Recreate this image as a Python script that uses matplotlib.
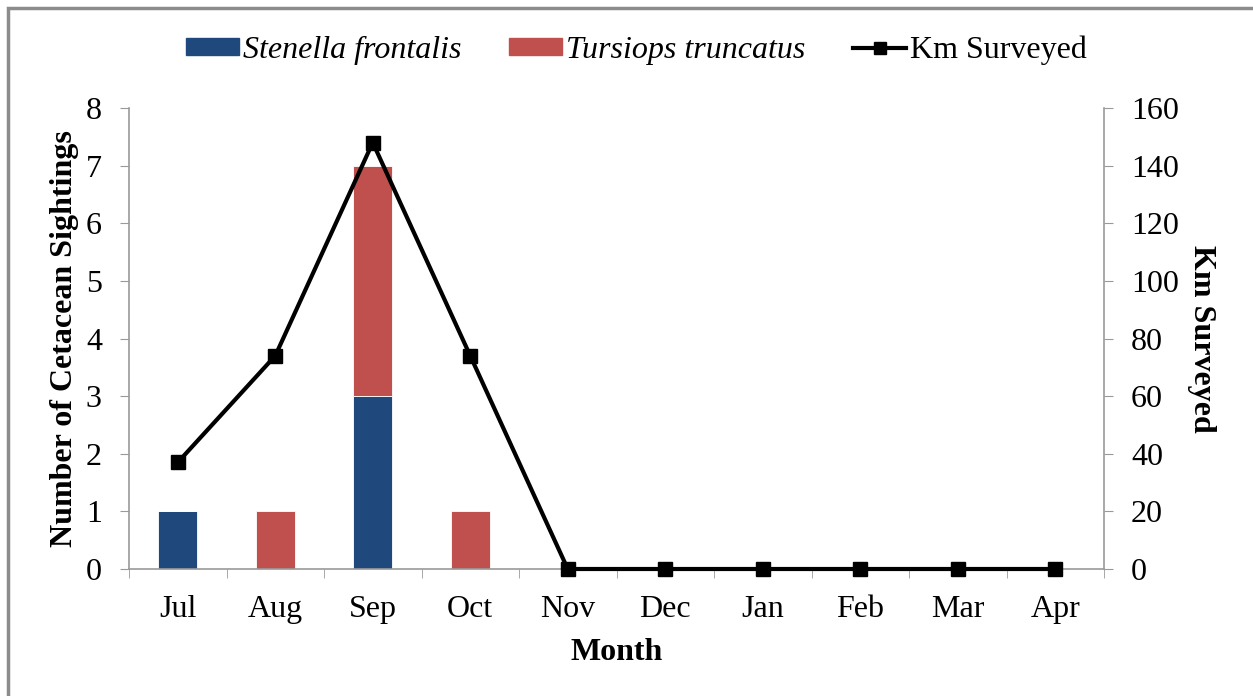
import numpy as np
import matplotlib.pyplot as plt
from matplotlib.patches import Rectangle
from matplotlib.lines import Line2D

months = ["Jul", "Aug", "Sep", "Oct", "Nov", "Dec", "Jan", "Feb", "Mar", "Apr"]
stenella = [1, 0, 3, 0, 0, 0, 0, 0, 0, 0]
tursiops = [0, 1, 4, 1, 0, 0, 0, 0, 0, 0]
km_surveyed = [37, 74, 148, 74, 0, 0, 0, 0, 0, 0]

plt.rcParams['font.family'] = ['Liberation Serif', 'DejaVu Serif']
FS = 23
GRID = "#9a9a9a"

fig = plt.figure(figsize=(12.53, 6.96), dpi=100)
W, H = 1253, 696
ax = fig.add_axes([129 / W, 1 - 569 / H, (1104 - 129) / W, (569 - 108) / H])

# gray frame around the chart area (right/bottom edges fall off the image)
fig.patches.append(Rectangle((8 / W, -0.05), 1.1, 1 - 8 / H + 0.05,
                             transform=fig.transFigure, fill=False,
                             edgecolor="#8c8c8c", linewidth=2.5))

x = np.arange(len(months))
bw = 0.4
ax.bar(x, stenella, bw, color="#1F497D", edgecolor="white", linewidth=0.6,
       label="Stenella frontalis", zorder=2)
ax.bar(x, tursiops, bw, bottom=stenella, color="#C0504D", edgecolor="white",
       linewidth=0.6, label="Tursiops truncatus", zorder=2)

ax.set_xlim(-0.5, len(months) - 0.5)
ax.set_ylim(0, 8)
ax.set_yticks(range(0, 9))
ax.set_xticks(x)
ax.set_xticklabels(months)
ax.set_xticks(np.arange(-0.5, len(months), 1.0), minor=True)
ax.tick_params(axis="x", which="major", length=0, pad=19, labelsize=FS)
ax.tick_params(axis="x", which="minor", length=6.5, color=GRID, direction="out")
ax.tick_params(axis="y", length=6.5, color=GRID, direction="out", labelsize=FS, pad=13)
for s in ["top", "right"]:
    ax.spines[s].set_visible(False)
for s in ["left", "bottom"]:
    ax.spines[s].set_color(GRID)
    ax.spines[s].set_linewidth(1.2)

ax.set_xlabel("Month", fontsize=FS, fontweight="bold", labelpad=10)
ax.set_ylabel("Number of Cetacean Sightings", fontsize=FS, fontweight="bold", labelpad=5)

ax2 = ax.twinx()
ax2.plot(x, km_surveyed, color="black", linewidth=3, marker="s", markersize=10,
         label="Km Surveyed", zorder=3, clip_on=False)
ax2.set_ylim(0, 160)
ax2.set_yticks(range(0, 161, 20))
ax2.tick_params(axis="y", length=6.5, color=GRID, direction="out", labelsize=FS, pad=13)
for s in ["top", "left", "bottom"]:
    ax2.spines[s].set_visible(False)
ax2.spines["right"].set_color(GRID)
ax2.spines["right"].set_linewidth(1.2)
ax2.set_ylabel("Km Surveyed", fontsize=FS, fontweight="bold", rotation=-90, labelpad=27)

# legend on top
handles = [Rectangle((0, 0), 1, 1, color="#1F497D"),
           Rectangle((0, 0), 1, 1, color="#C0504D"),
           Line2D([], [], color="black", linewidth=3, marker="s", markersize=9)]
labels = ["Stenella frontalis", "Tursiops truncatus", "Km Surveyed"]
leg = fig.legend(handles, labels, loc="center", bbox_to_anchor=(0.508, 1 - 50 / H),
                 ncol=3, frameon=False, fontsize=FS, handlelength=1.65,
                 handleheight=0.45, handletextpad=0.12, columnspacing=1.5)
for t in leg.get_texts()[:2]:
    t.set_fontstyle("italic")

fig.savefig("out.png", dpi=100)
